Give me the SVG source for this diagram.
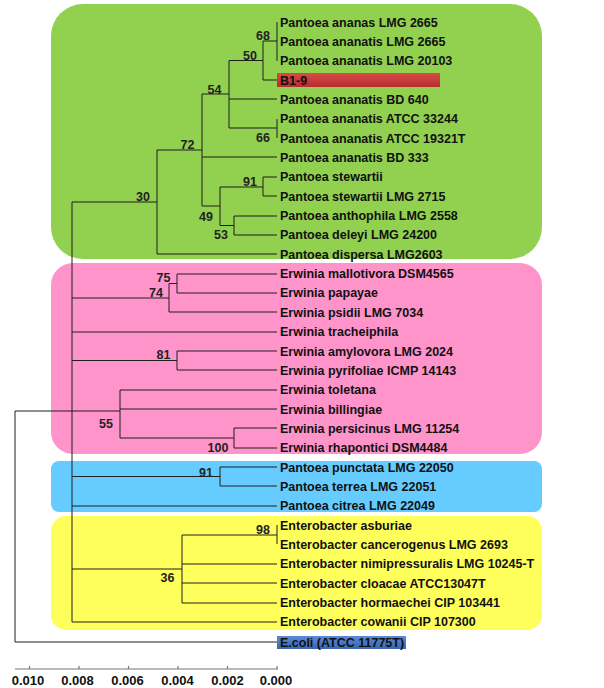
<svg xmlns="http://www.w3.org/2000/svg" width="604" height="688" viewBox="0 0 604 688">
<style>
.lbl{font-family:"Liberation Sans",Arial,sans-serif;font-weight:bold;font-size:12.5px;fill:#111}
.bs{font-family:"Liberation Sans",Arial,sans-serif;font-weight:bold;font-size:12.5px;fill:#222;text-anchor:middle}
.ax{font-family:"Liberation Sans",Arial,sans-serif;font-weight:bold;font-size:13px;fill:#111;text-anchor:middle}
.br{fill:none;stroke:#1e1e1e;stroke-width:1}
</style>
<defs>
<linearGradient id="gRed" x1="0" y1="0" x2="0" y2="1"><stop offset="0" stop-color="#d84a48"/><stop offset="1" stop-color="#b52d2f"/></linearGradient>
<linearGradient id="gBlue" x1="0" y1="0" x2="0" y2="1"><stop offset="0" stop-color="#5a8ad6"/><stop offset="1" stop-color="#3a65b5"/></linearGradient>
</defs>
<rect width="604" height="688" fill="#fff"/>
<g id="clades">
<rect id="clade-green" x="51" y="4" width="491" height="255" rx="32" fill="#92d050"/>
<rect id="clade-pink" x="51" y="263" width="491" height="191" rx="22" fill="#ff94cb"/>
<rect id="clade-blue" x="51" y="461" width="491" height="51" rx="8" fill="#66ccff"/>
<rect id="clade-yellow" x="51" y="516" width="491" height="114" rx="15" fill="#ffff5c"/>
</g>
<g id="highlights">
<rect x="277" y="73" width="163" height="14" fill="url(#gRed)"/>
<rect x="277" y="636" width="129" height="13" fill="url(#gBlue)"/>
</g>
<g id="connectors" class="br">
<path d="M263 41H277M277 22V61"/>
<path d="M229 60.5H263M263 41V80H277"/>
<path d="M202 94H229M229 60.5V128M229 99H277M229 128H277M277 119V138"/>
<path d="M157 150H202M202 94V206M202 157H277M202 206H220"/>
<path d="M220 187V225.5M220 187H263M263 177V196M263 177H277M263 196H277"/>
<path d="M220 225.5H234M234 216V235M234 216H277M234 235H277"/>
<path d="M72 202H157M157 150V254H277"/>
<path d="M72 202V622"/>
<path d="M72 298H169M169 283.5V312H277M169 283.5H177M177 274V293M177 274H277M177 293H277"/>
<path d="M72 332H277"/>
<path d="M72 360.5H177M177 351V370M177 351H277M177 370H277"/>
<path d="M72 411H120M120 390V438M120 390H277M120 409H277M120 438H234M234 428V448M234 428H277M234 448H277"/>
<path d="M72 476.5H220M220 467V486M220 467H277M220 486H277"/>
<path d="M72 506H277"/>
<path d="M72 569H182M182 535V603M182 535H277M277 525V544M182 564H277M182 583H277M182 603H277"/>
<path d="M72 622H277"/>
<path d="M15 411H72M15 411V642H277"/>
</g>
<g id="bootstrap">
<text class="bs" x="263" y="40">68</text>
<text class="bs" x="250" y="60">50</text>
<text class="bs" x="214.5" y="94">54</text>
<text class="bs" x="263" y="142">66</text>
<text class="bs" x="187.5" y="149">72</text>
<text class="bs" x="143" y="201">30</text>
<text class="bs" x="250" y="186">91</text>
<text class="bs" x="206" y="221">49</text>
<text class="bs" x="221" y="239">53</text>
<text class="bs" x="163.5" y="282">75</text>
<text class="bs" x="156" y="297">74</text>
<text class="bs" x="163.5" y="359">81</text>
<text class="bs" x="106" y="428">55</text>
<text class="bs" x="218" y="452">100</text>
<text class="bs" x="206" y="477">91</text>
<text class="bs" x="263" y="534">98</text>
<text class="bs" x="167.5" y="582">36</text>
</g>
<g id="taxa">
<g id="t0"><text class="lbl" x="280" y="26.5">Pantoea ananas LMG 2665</text></g>
<g id="t1"><text class="lbl" x="280" y="45.5">Pantoea ananatis LMG 2665</text></g>
<g id="t2"><text class="lbl" x="280" y="65">Pantoea ananatis LMG 20103</text></g>
<g id="t3"><text class="lbl" x="280" y="84.5">B1-9</text></g>
<g id="t4"><text class="lbl" x="280" y="103.5">Pantoea ananatis BD 640</text></g>
<g id="t5"><text class="lbl" x="280" y="123">Pantoea ananatis ATCC 33244</text></g>
<g id="t6"><text class="lbl" x="280" y="142.5">Pantoea ananatis ATCC 19321T</text></g>
<g id="t7"><text class="lbl" x="280" y="161.5">Pantoea ananatis BD 333</text></g>
<g id="t8"><text class="lbl" x="280" y="181">Pantoea stewartii</text></g>
<g id="t9"><text class="lbl" x="280" y="200.5">Pantoea stewartii LMG 2715</text></g>
<g id="t10"><text class="lbl" x="280" y="220">Pantoea anthophila LMG 2558</text></g>
<g id="t11"><text class="lbl" x="280" y="239">Pantoea deleyi LMG 24200</text></g>
<g id="t12"><text class="lbl" x="280" y="258.5">Pantoea dispersa LMG2603</text></g>
<g id="t13"><text class="lbl" x="280" y="278">Erwinia mallotivora DSM4565</text></g>
<g id="t14"><text class="lbl" x="280" y="297">Erwinia papayae</text></g>
<g id="t15"><text class="lbl" x="280" y="316.5">Erwinia psidii LMG 7034</text></g>
<g id="t16"><text class="lbl" x="280" y="336">Erwinia tracheiphila</text></g>
<g id="t17"><text class="lbl" x="280" y="355.5">Erwinia amylovora LMG 2024</text></g>
<g id="t18"><text class="lbl" x="280" y="374.5">Erwinia pyrifoliae ICMP 14143</text></g>
<g id="t19"><text class="lbl" x="280" y="394">Erwinia toletana</text></g>
<g id="t20"><text class="lbl" x="280" y="413.5">Erwinia billingiae</text></g>
<g id="t21"><text class="lbl" x="280" y="432.5">Erwinia persicinus LMG 11254</text></g>
<g id="t22"><text class="lbl" x="280" y="452">Erwinia rhapontici DSM4484</text></g>
<g id="t23"><text class="lbl" x="280" y="471.5">Pantoea punctata LMG 22050</text></g>
<g id="t24"><text class="lbl" x="280" y="490.5">Pantoea terrea LMG 22051</text></g>
<g id="t25"><text class="lbl" x="280" y="510">Pantoea citrea LMG 22049</text></g>
<g id="t26"><text class="lbl" x="280" y="529.5">Enterobacter asburiae</text></g>
<g id="t27"><text class="lbl" x="280" y="549">Enterobacter cancerogenus LMG 2693</text></g>
<g id="t28"><text class="lbl" x="280" y="568">Enterobacter nimipressuralis LMG 10245-T</text></g>
<g id="t29"><text class="lbl" x="280" y="587.5">Enterobacter cloacae ATCC13047T</text></g>
<g id="t30"><text class="lbl" x="280" y="607">Enterobacter hormaechei CIP 103441</text></g>
<g id="t31"><text class="lbl" x="280" y="626">Enterobacter cowanii CIP 107300</text></g>
<g id="t32"><text class="lbl" x="280" y="646.5" fill="#0c1a3a">E.coli (ATCC 11775T)</text></g>
</g>
<g id="scale">
<path d="M15 669H278M29.5 666V669M79 666V669M128.5 666V669M178 666V669M227.5 666V669M277 666V669" fill="none" stroke="#777" stroke-width="1.2"/>
<text class="ax" x="28" y="685">0.010</text>
<text class="ax" x="77.5" y="685">0.008</text>
<text class="ax" x="127.5" y="685">0.006</text>
<text class="ax" x="177.5" y="685">0.004</text>
<text class="ax" x="227.5" y="685">0.002</text>
<text class="ax" x="276" y="685">0.000</text>
</g>
</svg>
